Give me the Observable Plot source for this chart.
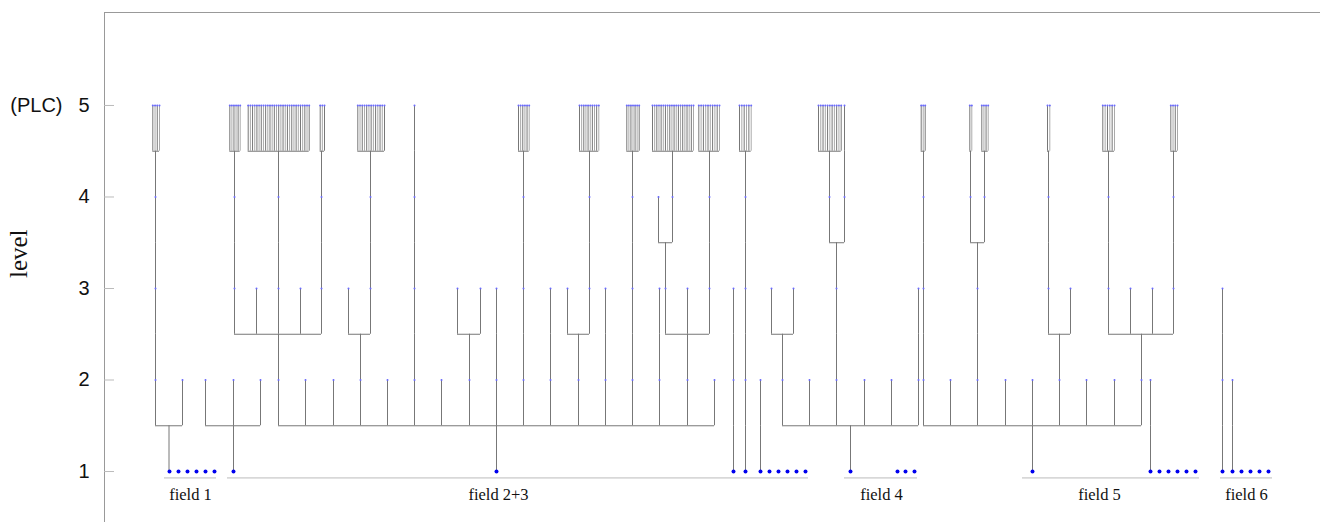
<!DOCTYPE html>
<html><head><meta charset="utf-8">
<script src="https://cdn.jsdelivr.net/npm/d3@7"></script>
<script src="https://cdn.jsdelivr.net/npm/@observablehq/plot@0.6"></script>
<style>body{margin:0;background:#fff}svg{display:block}</style>
</head><body><div id="chart"></div>
<script>
// y axis: levels (5 = PLC)
const levelTicks = [1, 2, 3, 4, 5];

// level-1 nodes (position along the fields)
const rootNodes = [169, 178, 187, 196, 205, 214,
  233, 496, 733, 745, 760, 769, 778, 787, 796, 805,
  850, 897, 905, 914,
  1032, 1150, 1159, 1168, 1177, 1186, 1195,
  1222, 1232, 1241, 1250, 1259, 1268];

// branchings: [parent position, parent level, child positions at level+1]
const branches = [
  [168.5, 1, [155, 182]], [155, 2, [155]], [155, 3, [155]],
  [233, 1, [205, 233, 260]],
  [496, 1, [278, 305, 333, 360, 387, 414, 441, 469, 496, 523, 550, 578, 605, 632, 659, 687, 714]],
  [278, 2, [234, 256, 278, 300, 321]], [234, 3, [234]], [278, 3, [278]], [321, 3, [321]],
  [360, 2, [348, 370]], [370, 3, [370]],
  [414, 2, [414]], [414, 3, [414]], [414, 4, [414]],
  [469, 2, [457, 480]], [496, 2, [496]],
  [523, 2, [523]], [523, 3, [523]], [550, 2, [550]],
  [578, 2, [567, 589]], [589, 3, [589]], [605, 2, [605]],
  [632, 2, [632]], [632, 3, [632]], [659, 2, [659]],
  [687, 2, [665, 687, 709]], [665, 3, [658, 672]], [709, 3, [709]],
  [733, 1, [733]], [733, 2, [733]],
  [745, 1, [745]], [745, 2, [745]], [745, 3, [745]],
  [760, 1, [760]],
  [850, 1, [782, 809, 836, 864, 891, 918]],
  [782, 2, [771, 793]], [836, 2, [836]], [836, 3, [829, 844]], [844, 4, [844]], [918, 2, [918]],
  [1032, 1, [923, 950, 977, 1005, 1032, 1059, 1086, 1114, 1141]],
  [923, 2, [923]], [923, 3, [923]], [977, 2, [977]], [977, 3, [970, 984]],
  [1059, 2, [1048, 1070]], [1048, 3, [1048]],
  [1141, 2, [1108, 1130, 1152, 1173]], [1108, 3, [1108]], [1173, 3, [1173]],
  [1150, 1, [1150]],
  [1222, 1, [1222]], [1222, 2, [1222]],
  [1232, 1, [1232]]
];

// PLC groups at level 4: [parent position, left leaf, right leaf, number of PLC leaves]
const plcGroups = [
  [155, 152.3, 159, 4],
  [234, 229.3, 239.7, 6],
  [278, 247.7, 308.7, 29],
  [321, 319.7, 324, 3],
  [370, 357.3, 384, 13],
  [523, 518, 528.7, 6],
  [589, 579, 598.3, 10],
  [632, 626.3, 638.7, 7],
  [672, 652, 693, 20],
  [709, 698.3, 719, 10],
  [745, 739, 750.7, 6],
  [829, 818, 840.7, 11],
  [923, 920.7, 924.7, 3],
  [970, 969.3, 971.3, 2],
  [984, 981.3, 987.7, 4],
  [1048, 1047, 1049.3, 2],
  [1108, 1102.3, 1114, 6],
  [1173, 1170.3, 1177, 4]
];

// fields
const fieldNames = ["field 1", "field 2+3", "field 4", "field 5", "field 6"];
const fieldLeft = [164, 227, 844, 1022, 1220];
const fieldRight = [216, 808, 917, 1199, 1272];
const fieldLabelX = [190, 498, 881, 1099, 1246];

// ---- build link geometry (elbow tree) ----
const verticals = [], horizontals = [], nodes = [];
for (const [px, lv, kids] of branches) {
  verticals.push({x: px, y1: lv, y2: lv + 0.5});
  if (kids.length > 1) horizontals.push({x1: d3.min(kids), x2: d3.max(kids), y: lv + 0.5});
  for (const c of kids) {
    verticals.push({x: c, y1: lv + 0.5, y2: lv + 1});
    nodes.push({x: c, level: lv + 1});
  }
}
const leafLines = [];
for (const [px, left, right, n] of plcGroups) {
  verticals.push({x: px, y1: 4, y2: 4.5});
  horizontals.push({x1: left, x2: right, y: 4.5});
  for (let i = 0; i < n; i++) {
    const x = n > 1 ? left + i * (right - left) / (n - 1) : left;
    leafLines.push({x, y1: 4.5, y2: 5, i});
    nodes.push({x, level: 5});
  }
}

const xDomain = [104, 1320];
const yDomain = [0.443, 6.016];
const sans = "Liberation Sans, Arial, sans-serif";
const serif = "Liberation Serif, DejaVu Serif, serif";

const chart = Plot.plot({
  width: 1320,
  height: 522,
  marginLeft: 104,
  marginRight: 0,
  marginTop: 12,
  marginBottom: 0,
  x: {domain: xDomain, axis: null},
  y: {domain: yDomain, axis: null},
  style: {background: "#fff"},
  marks: [
    // frame: left axis line and top line
    Plot.ruleX([xDomain[0]], {stroke: "#999", strokeWidth: 1}),
    Plot.ruleY([yDomain[1]], {stroke: "#999", strokeWidth: 1}),
    // ticks (inward)
    Plot.axisY({ticks: levelTicks, tickSize: 10, dx: 10, tickFormat: () => "", label: null, stroke: "#bbb"}),
    // tick labels
    Plot.axisY({ticks: levelTicks, tickSize: 0, tickPadding: 15, tickFormat: "d", label: null,
      fontSize: 20, fontFamily: sans, fill: "#111"}),
    Plot.text(["(PLC)"], {y: [5], text: d => d, frameAnchor: "left", dx: -42, textAnchor: "end",
      fontSize: 20, fontFamily: sans, fill: "#111"}),
    Plot.text(["level"], {y: [3.38], text: d => d, frameAnchor: "left", dx: -86, rotate: -90,
      textAnchor: "middle", lineAnchor: "middle",
      fontSize: 25, fontFamily: serif, fill: "#111"}),
    // fields
    Plot.ruleY(fieldNames, {x1: fieldLeft, x2: fieldRight, y: () => 0.93, stroke: "#bbb"}),
    Plot.text(fieldNames, {x: fieldLabelX, y: () => 0.75, text: d => d,
      fontSize: 16.5, fontFamily: serif, fill: "#111"}),
    // tree
    Plot.ruleX(leafLines, {x: "x", y1: "y1", y2: "y2", stroke: d => d.i % 2 ? "#aaa" : "#777", strokeWidth: 1}),
    Plot.ruleX(verticals, {x: "x", y1: "y1", y2: "y2", stroke: "#777", strokeWidth: 1}),
    Plot.ruleY(horizontals, {x1: "x1", x2: "x2", y: "y", stroke: "#777", strokeWidth: 1}),
    Plot.dot(nodes, {x: "x", y: "level", r: 1, fill: "#6a6aff", stroke: "none"}),
    Plot.dot(rootNodes, {x: d => d, y: () => 1, r: 2, fill: "#0000ee", stroke: "none"})
  ]
});
document.getElementById("chart").appendChild(chart);
</script>
</body></html>
